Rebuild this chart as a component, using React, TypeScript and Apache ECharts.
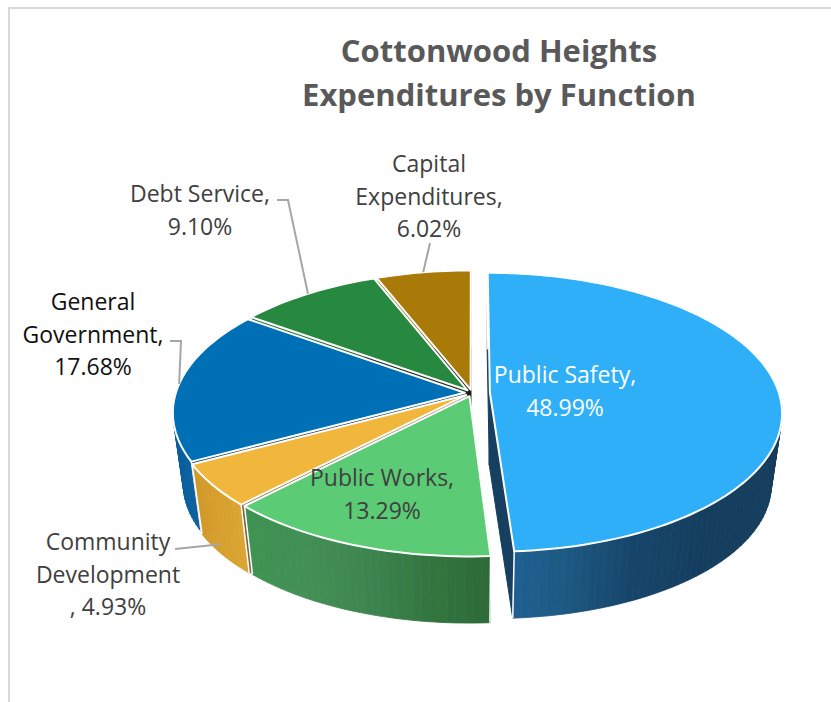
import React, { useEffect, useRef } from "react";
import * as echarts from "echarts";

const sliceNames = ["Public Safety", "Public Works", "Community Development", "General Government", "Debt Service", "Capital Expenditures"];
const sliceValues = [48.99, 13.29, 4.93, 17.68, 9.1, 6.02];
const labelLines = [
  ["Public Safety,", "48.99%"],
  ["Public Works,", "13.29%"],
  ["Community", "Development", ", 4.93%"],
  ["General", "Government,", "17.68%"],
  ["Debt Service,", "9.10%"],
  ["Capital", "Expenditures,", "6.02%"],
];
const topColors = ["#2FAFF8", "#5BCB75", "#F0B73C", "#0070B6", "#27893F", "#A97A08"];
const cutColors = ["#173F5F", "#2F6B3A", "#7D6238", "#12304A", "#1C2A20", "#1E1A10"];
const wallStops = [
  ["#20639A", "#1D5A84", "#17456A", "#153E5E", "#153E5E"],
  ["#3F9453", "#438F55", "#3D8550", "#33753F", "#2D6A38"],
  ["#D29A2C", "#DCA633"],
  ["#0A5F9C", "#0A6AAB"],
  ["#1F7034", "#1F7034"],
  ["#8A6306", "#8A6306"],
];
const explodeAmounts = [0.062, 0.025, 0.025, 0.025, 0.025, 0.025];
const labelColors = ["#FFFFFF", "#404040", "#404040", "#111111", "#404040", "#404040"];
const labelCenters = [[565, 374], [382, 477], [108, 541], [93, 301], [200, 193], [429, 163]];
// Leader line: depth on the wall of the anchor, then elbow points leading to the label.
const leaderPaths: (null | { z: number; via: number[][] })[] = [
  null,
  null,
  { z: 0.85, via: [[175, 549]] },
  { z: 0, via: [[181, 341], [170, 341]] },
  { z: 0, via: [[288, 200], [277, 200]] },
  { z: 0, via: [[430, 243]] },
];

const CX = 472;
const CY = 393;
const RX = 289;
const RY = 136.8;
const PERSP = 0.14;
const DEPTH = 75;
const FAR = 0.965;

const total = sliceValues.reduce((a, b) => a + b, 0);
const spans = sliceValues.reduce<number[][]>((acc, v) => {
  const from = acc.length ? acc[acc.length - 1][1] : 0;
  acc.push([from, from + (v / total) * 360]);
  return acc;
}, []);
const midAngle = (i: number) => (spans[i][0] + spans[i][1]) / 2;
const rad = (d: number) => (d * Math.PI) / 180;

// Projects a point on the disc (clock angle, radius) at depth z onto the page.
function project(i: number, angle: number, radius: number, z: number) {
  const e = explodeAmounts[i];
  const m = rad(midAngle(i));
  const X = radius * Math.sin(rad(angle)) + e * Math.sin(m);
  const Y = -radius * Math.cos(rad(angle)) - e * Math.cos(m);
  const s = 1 / (1 - PERSP * Y);
  const q = 1 + (FAR - 1) * z;
  return [CX + RX * X * s * q, CY + (RY * Y * s + DEPTH * z) * q];
}

function mix(stops: string[], t: number) {
  const pos = Math.min(0.9999, Math.max(0, t)) * (stops.length - 1);
  const idx = Math.floor(pos);
  const f = pos - idx;
  const a = stops[idx];
  const b = stops[Math.min(idx + 1, stops.length - 1)];
  const ch = (c: string, o: number) => parseInt(c.slice(o, o + 2), 16);
  const v = [1, 3, 5].map((o) => Math.round(ch(a, o) + (ch(b, o) - ch(a, o)) * f));
  return `rgb(${v.join(",")})`;
}

// Back slices are painted first so nearer ones overlap them.
const drawOrder = sliceValues
  .map((_, i) => i)
  .sort((a, b) => -Math.cos(rad(midAngle(a))) - -Math.cos(rad(midAngle(b))));

function renderSlice(params: any, api: any) {
  const i = api.value(0) as number;
  const [a0, a1] = spans[i];
  const steps = Math.max(2, Math.ceil((a1 - a0) / 1.5));
  const arc: number[] = [];
  for (let k = 0; k <= steps; k++) arc.push(a0 + ((a1 - a0) * k) / steps);

  const topRim = arc.map((a) => project(i, a, 1, 0));
  const lowRim = arc.map((a) => project(i, a, 1, 1));
  const apexTop = project(i, 0, 0, 0);
  const apexLow = project(i, 0, 0, 1);
  const xs = topRim.map((p) => p[0]);
  const xMin = Math.min(...xs);
  const xMax = Math.max(...xs);

  const children: any[] = [];
  const cut = (idx: number) => ({
    type: "polygon",
    shape: { points: [apexTop, topRim[idx], lowRim[idx], apexLow] },
    style: { fill: cutColors[i], stroke: cutColors[i], lineWidth: 1 },
  });
  children.push(cut(0), cut(steps));

  for (let k = 0; k < steps; k++) {
    const color = mix(wallStops[i], ((xs[k] + xs[k + 1]) / 2 - xMin) / Math.max(1, xMax - xMin));
    children.push({
      type: "polygon",
      shape: { points: [topRim[k], topRim[k + 1], lowRim[k + 1], lowRim[k]] },
      style: { fill: color, stroke: color, lineWidth: 0.8 },
    });
  }
  // Pale vertical seams at both ends of the outer wall.
  [0, steps].forEach((idx) => {
    children.push({
      type: "line",
      shape: { x1: topRim[idx][0], y1: topRim[idx][1], x2: lowRim[idx][0], y2: lowRim[idx][1] },
      style: { stroke: "#FFFFFF", lineWidth: 1.5 },
    });
  });
  children.push({
    type: "polygon",
    shape: { points: [apexTop, ...topRim] },
    style: { fill: topColors[i], stroke: "#FFFFFF", lineWidth: 2, lineJoin: "round" },
  });
  return { type: "group", children };
}

function renderLabel(params: any, api: any) {
  const i = api.value(0) as number;
  const [cx, top] = labelCenters[i];
  const children: any[] = [];
  const path = leaderPaths[i];
  if (path) {
    const anchor = project(i, midAngle(i), 1, path.z);
    children.push({
      type: "polyline",
      shape: { points: [anchor, ...path.via] },
      style: { stroke: "#A6A6A6", lineWidth: 2, fill: "none" },
    });
  }
  labelLines[i].forEach((line, n) => {
    children.push({
      type: "text",
      x: cx,
      y: top + n * 32.5,
      style: {
        text: line,
        fill: labelColors[i],
        font: '400 23px "Open Sans", sans-serif',
        textAlign: "center",
        textVerticalAlign: "middle",
      },
    });
  });
  return { type: "group", children };
}

export default function App() {
  const ref = useRef<HTMLDivElement>(null);
  useEffect(() => {
    document.body.style.margin = "0";
    const chart = echarts.init(ref.current!, undefined, { renderer: "svg" });
    chart.setOption({
      animation: false,
      backgroundColor: "#FFFFFF",
      title: {
        text: "Cottonwood Heights\nExpenditures by Function",
        left: 494,
        top: 23,
        textAlign: "center",
        textStyle: {
          fontFamily: '"Open Sans", sans-serif',
          fontWeight: 700,
          fontSize: 31,
          lineHeight: 44,
          color: "#595959",
        },
      },
      graphic: [
        { type: "line", shape: { x1: 8, y1: 8, x2: 831, y2: 8 }, style: { stroke: "#D9D9D9", lineWidth: 2 } },
        { type: "line", shape: { x1: 9, y1: 8, x2: 9, y2: 702 }, style: { stroke: "#D9D9D9", lineWidth: 2 } },
      ],
      series: [
        {
          type: "custom",
          coordinateSystem: "none",
          silent: true,
          renderItem: renderSlice,
          data: drawOrder.map((i) => ({ name: sliceNames[i], value: [i, sliceValues[i]] })),
          z: 2,
        },
        {
          type: "custom",
          coordinateSystem: "none",
          silent: true,
          renderItem: renderLabel,
          data: sliceNames.map((name, i) => ({ name, value: [i, sliceValues[i]] })),
          z: 5,
        },
      ],
    });
    return () => chart.dispose();
  }, []);
  return <div ref={ref} style={{ position: "absolute", left: 0, top: 0, width: 831, height: 702 }} />;
}
